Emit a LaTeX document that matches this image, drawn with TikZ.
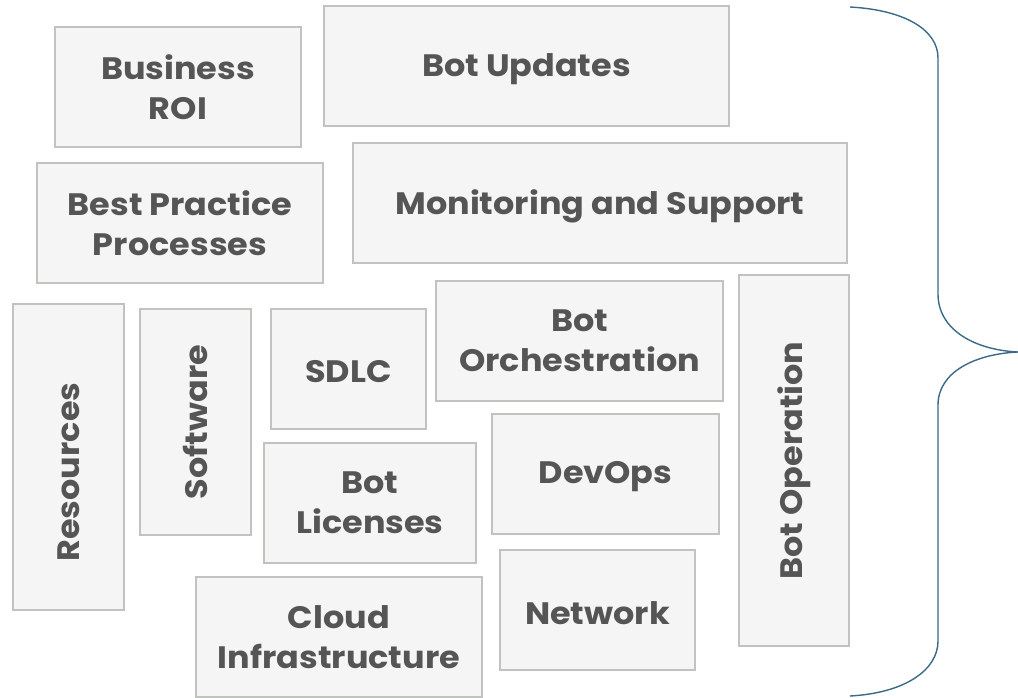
\documentclass[tikz,border=0pt]{standalone}
\usepackage{fontspec}
\setmainfont{Poppins}[FakeStretch=1.08]
\definecolor{boxfill}{HTML}{F5F5F5}
\definecolor{boxline}{HTML}{BFC5BE}
\definecolor{txt}{HTML}{555555}
\definecolor{brace}{HTML}{3A6A8A}
\begin{document}
\begin{tikzpicture}[x=1pt,y=-1pt,
  blk/.style={draw=boxline,line width=1.6pt,fill=boxfill,inner sep=0pt},
  lbl/.style={text=txt,font=\bfseries\fontsize{31}{40}\selectfont,align=center,inner sep=0pt},
]
\useasboundingbox (0,0) rectangle (1018,698);
\newcommand{\blkat}[7]{\node[blk,minimum width=#4-#2,minimum height=#5-#3] (#1) at ({(#2+#4)/2},{(#3+#5)/2}) {}; \node[lbl] (#1-t) at ([yshift=#7]#1.center) {#6};}
\newcommand{\rblkat}[7]{\node[blk,minimum width=#4-#2,minimum height=#5-#3] (#1) at ({(#2+#4)/2},{(#3+#5)/2}) {}; \node[lbl,rotate=90] (#1-t) at ([yshift=#7]#1.center) {#6};}
\blkat{roi}{55}{27}{301}{147}{Business\\ROI}{0pt}
\blkat{upd}{324}{6}{729}{126}{Bot Updates}{-3pt}
\blkat{bpp}{37}{163}{323}{283}{Best Practice\\Processes}{0pt}
\blkat{mon}{353}{143}{847}{263}{Monitoring and Support}{-3pt}
\rblkat{res}{13}{304}{124}{610}{Resources}{-15pt}
\rblkat{sw}{140}{309}{251}{535}{Software}{0pt}
\blkat{sdlc}{271}{309}{426}{429}{SDLC}{-3pt}
\blkat{orch}{436}{281}{723}{401}{Bot\\Orchestration}{0pt}
\rblkat{op}{739}{275}{849}{646}{Bot Operation}{0pt}
\blkat{lic}{264}{443}{476}{563}{Bot\\Licenses}{0pt}
\blkat{dev}{492}{414}{719}{534}{DevOps}{-3pt}
\blkat{cloud}{196}{577}{482}{697}{Cloud\\Infrastructure}{0pt}
\blkat{net}{500}{550}{695}{670}{Network}{-3pt}
\coordinate (bt) at (850,7);
\coordinate (tip) at (1018,352);
\coordinate (bb) at (850,696);
\draw[brace,line width=1.4pt] (bt) .. controls (905,10) and (938,30) .. (938,58)
  -- (938,294) .. controls (938,330) and (975,350) .. (tip)
  .. controls (975,354) and (938,372) .. (938,405)
  -- (938,641) .. controls (938,670) and (905,693) .. (bb);
\end{tikzpicture}
\end{document}
